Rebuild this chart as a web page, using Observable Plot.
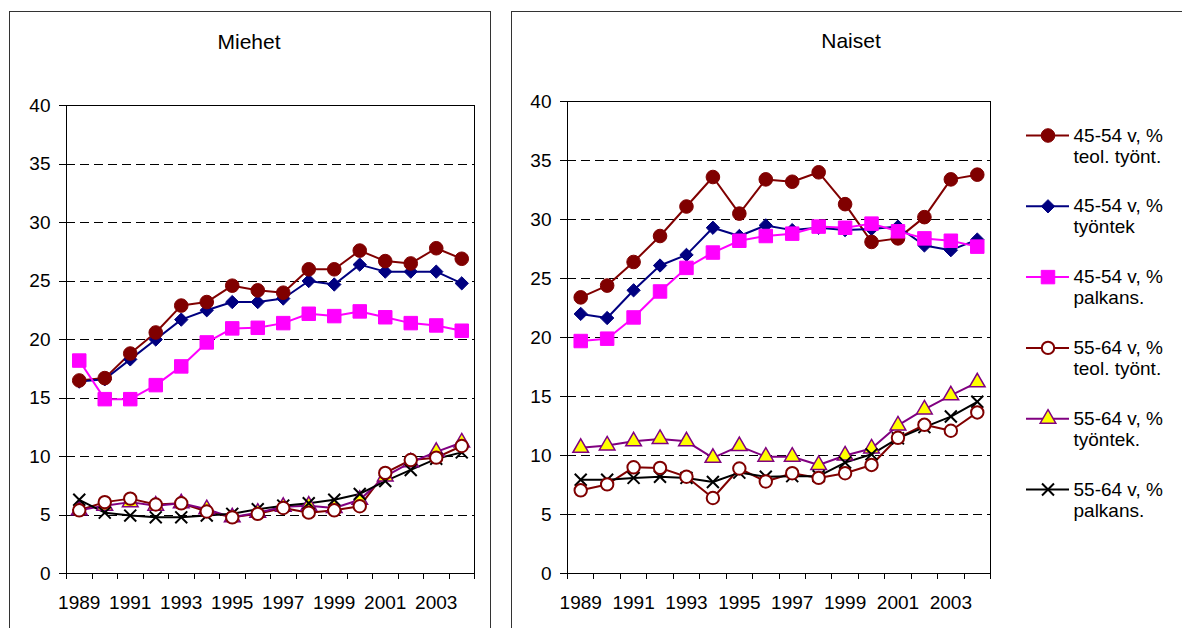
<!DOCTYPE html>
<html><head><meta charset="utf-8">
<script src="https://cdn.jsdelivr.net/npm/d3@7"></script>
<script src="https://cdn.jsdelivr.net/npm/@observablehq/plot@0.6"></script>
<style>
body{margin:0;background:#fff;font-family:Arial,"Liberation Sans",sans-serif;}
#wrap{position:relative;width:1182px;height:628px;overflow:hidden;background:#fff}
.panel{position:absolute;border:1px solid #333;pointer-events:none}
.title{position:absolute;font-size:21px;color:#000;transform:translate(-50%,-50%);white-space:nowrap}
.chart{position:absolute;top:0}
</style></head><body>
<div id="wrap">
 <div class="chart" id="left" style="left:0px"></div>
 <div class="chart" id="right" style="left:500px"></div>
 <div class="chart" id="legend" style="left:1010px"></div>
 <div class="panel" style="left:9px;top:11px;width:480px;height:700px"></div>
 <div class="panel" style="left:511px;top:11px;width:800px;height:700px"></div>
 <div class="title" style="left:249px;top:42px">Miehet</div>
 <div class="title" style="left:851px;top:41px">Naiset</div>
</div>
<script>
const years = [1989,1990,1991,1992,1993,1994,1995,1996,1997,1998,1999,2000,2001,2002,2003,2004];
const xTickLabels = ["1989","1991","1993","1995","1997","1999","2001","2003"];
const yTicks = [0,5,10,15,20,25,30,35,40];
const gridValues = [5,10,15,20,25,30,35];

const seriesLine1 = ["45-54 v, %","45-54 v, %","45-54 v, %","55-64 v, %","55-64 v, %","55-64 v, %"];
const seriesLine2 = ["teol. työnt.","työntek","palkans.","teol. työnt.","työntek.","palkans."];

// Miehet
const men_4554_teol = [16.5,16.7,18.8,20.6,22.9,23.2,24.6,24.2,24.0,26.0,26.0,27.6,26.7,26.5,27.8,26.9];
const men_4554_tyontek = [16.4,16.6,18.3,20.0,21.7,22.5,23.2,23.2,23.5,25.0,24.7,26.4,25.8,25.8,25.8,24.8];
const men_4554_palkans = [18.2,14.9,14.9,16.1,17.7,19.75,20.95,21.0,21.4,22.2,22.0,22.4,21.9,21.4,21.2,20.75];
const men_5564_teol = [5.4,6.1,6.4,5.9,6.0,5.3,4.8,5.1,5.6,5.2,5.4,5.75,8.6,9.7,9.9,10.9];
const men_5564_tyontek = [5.4,5.8,6.1,5.8,6.0,5.5,4.8,5.2,5.7,5.8,5.6,6.3,8.3,9.5,10.4,11.2];
const men_5564_palkans = [6.3,5.2,4.95,4.8,4.8,4.95,5.1,5.5,5.8,6.0,6.3,6.8,7.9,8.85,9.8,10.35];

// Naiset
const women_4554_teol = [23.4,24.4,26.4,28.6,31.1,33.6,30.5,33.4,33.2,34.0,31.3,28.1,28.4,30.2,33.4,33.8];
const women_4554_tyontek = [22.0,21.65,24.0,26.1,27.0,29.3,28.6,29.5,29.1,29.3,29.1,29.2,29.4,27.8,27.4,28.3];
const women_4554_palkans = [19.7,19.9,21.7,23.9,25.9,27.2,28.2,28.6,28.8,29.4,29.3,29.65,29.0,28.4,28.2,27.7];
const women_5564_teol = [7.05,7.55,9.0,8.95,8.2,6.4,8.9,7.8,8.5,8.1,8.5,9.2,11.5,12.6,12.1,13.65];
const women_5564_tyontek = [10.65,10.85,11.2,11.4,11.2,9.8,10.8,9.9,9.9,9.2,10.0,10.6,12.55,13.9,15.1,16.2];
const women_5564_palkans = [7.95,7.95,8.1,8.2,8.1,7.75,8.55,8.2,8.25,8.25,9.4,10.1,11.45,12.4,13.3,14.55];

// styles per series (index order = legend order)
const styles = [
  {symbol:"circle", r:6.8, fill:"#800000", stroke:"#800000", sw:1, line:"#800000"},
  {symbol:"diamond2", r:6, fill:"#000080", stroke:"#000080", sw:1, line:"#000080"},
  {symbol:"square", r:7.6, fill:"#FF00FF", stroke:"#FF00FF", sw:1, line:"#FF00FF"},
  {symbol:"circle", r:6.2, fill:"#FFFFFF", stroke:"#800000", sw:2, line:"#800000"},
  {symbol:"triangle", r:5.8, fill:"#FFFF00", stroke:"#800080", sw:1.5, line:"#800080"},
  {symbol:"times", r:5.5, fill:"none", stroke:"#000000", sw:2, line:"#000000"}
];
const markerOrder = [1,0,2,4,5,3];

function toRows(arr){ return years.map((yr,i)=>({year:yr, value:arr[i]})); }

function panel(seriesArrays, o){
  const tbl = seriesArrays.map(toRows);
  const bounds = years.map(y=>y-0.5).concat([years[years.length-1]+0.5]);
  const marks = [
    Plot.ruleY(gridValues, {stroke:"#000", strokeWidth:1, strokeDasharray:"9,5", shapeRendering:"crispEdges"}),
    Plot.axisY({ticks:yTicks, tickSize:7, tickPadding:9, label:null, tickFormat:d=>String(d), shapeRendering:"crispEdges"}),
    Plot.axisX({ticks:bounds, tickSize:6, tickFormat:()=>"", label:null, shapeRendering:"crispEdges"}),
    Plot.axisX({ticks:xTickLabels.map(Number), tickSize:0, tickPadding:22, label:null, tickFormat:d=>String(d)}),
    Plot.frame({stroke:"#000", strokeWidth:1, shapeRendering:"crispEdges"})
  ];
  tbl.forEach((rows,i)=>{
    marks.push(Plot.line(rows,{x:"year",y:"value",stroke:styles[i].line,strokeWidth:2}));
  });
  markerOrder.forEach(i=>{
    const s = styles[i];
    marks.push(Plot.dot(tbl[i],{x:"year",y:"value",symbol:()=>s.symbol,r:s.r,fill:s.fill,stroke:s.stroke,strokeWidth:s.sw}));
  });
  return Plot.plot({
    width:o.width, height:628,
    marginLeft:o.ml, marginRight:o.mr, marginTop:o.mt, marginBottom:o.mb,
    x:{type:"linear", domain:[years[0]-0.5, years[years.length-1]+0.5]},
    y:{domain:[0,40]},
    symbol:{type:"identity"},
    style:{fontSize:"19px", fontFamily:"Arial, 'Liberation Sans', sans-serif", color:"#000", background:"transparent", overflow:"visible"},
    marks
  });
}

document.getElementById("left").appendChild(panel(
  [men_4554_teol,men_4554_tyontek,men_4554_palkans,men_5564_teol,men_5564_tyontek,men_5564_palkans],
  {width:490, ml:66, mr:16, mt:105, mb:55}));
document.getElementById("right").appendChild(panel(
  [women_4554_teol,women_4554_tyontek,women_4554_palkans,women_5564_teol,women_5564_tyontek,women_5564_palkans],
  {width:500, ml:67, mr:10, mt:101, mb:55}));

// legend
const legendRows = seriesLine1.map((t,i)=>({i, a:t, b:seriesLine2[i]}));
const legendMarks = [];
legendRows.forEach(d=>{
  const s = styles[d.i];
  legendMarks.push(Plot.ruleY([d.i],{x1:0,x2:1,stroke:s.line,strokeWidth:2}));
  legendMarks.push(Plot.dot([d],{x:()=>0.5,y:"i",symbol:()=>s.symbol,r:s.r,fill:s.fill,stroke:s.stroke,strokeWidth:s.sw}));
});
legendMarks.push(Plot.text(legendRows,{x:()=>1,y:"i",text:"a",textAnchor:"start",dx:4}));
legendMarks.push(Plot.text(legendRows,{x:()=>1,y:"i",text:"b",textAnchor:"start",dx:4,dy:21}));
document.getElementById("legend").appendChild(Plot.plot({
  width:172, height:628, margin:0,
  x:{domain:[0,1], range:[16,59], axis:null},
  y:{domain:[0,5], range:[135,489], axis:null},
  symbol:{type:"identity"},
  style:{fontSize:"19px", fontFamily:"Arial, 'Liberation Sans', sans-serif", color:"#000", background:"transparent", overflow:"visible"},
  marks:legendMarks
}));
</script>
</body></html>
